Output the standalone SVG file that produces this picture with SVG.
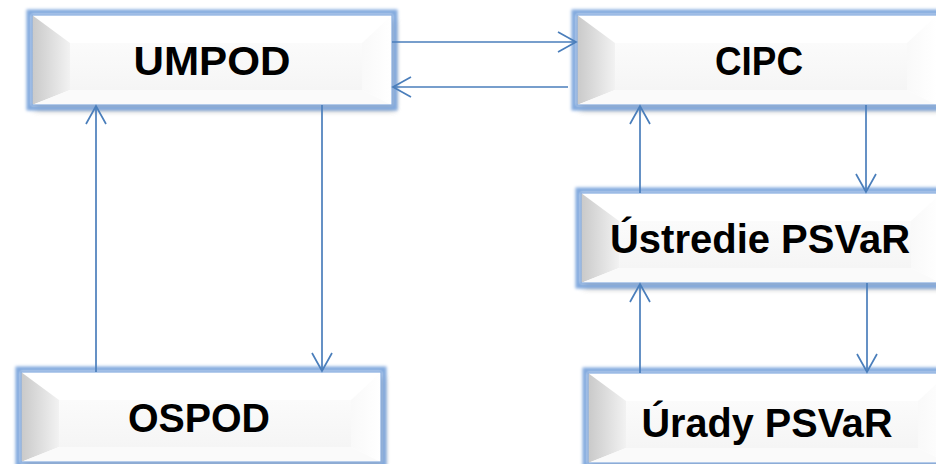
<svg xmlns="http://www.w3.org/2000/svg" xmlns:xlink="http://www.w3.org/1999/xlink" width="936" height="464" viewBox="0 0 936 464">
<defs>
<style>
.lbl{font-family:"Liberation Sans",Arial,sans-serif;font-weight:bold;font-size:41px;fill:#000;text-anchor:middle}
.con{stroke:#4a7ebb;stroke-width:1.7;fill:none;marker-end:url(#arr)}
</style>
<filter id="glow" x="-10%" y="-30%" width="120%" height="160%"><feGaussianBlur stdDeviation="1.6"/></filter>
<filter id="shadow" x="-10%" y="-30%" width="120%" height="160%"><feGaussianBlur stdDeviation="3"/></filter>
<linearGradient id="leftG" x1="0" y1="0" x2="1" y2="0">
<stop offset="0" stop-color="#c9c9c9"/><stop offset="1" stop-color="#f2f2f2"/>
</linearGradient>
<linearGradient id="rightG" x1="0" y1="0" x2="1" y2="0">
<stop offset="0" stop-color="#f9f9f9"/><stop offset="1" stop-color="#ffffff"/>
</linearGradient>
<linearGradient id="midG" x1="0" y1="0" x2="0" y2="1">
<stop offset="0" stop-color="#fbfbfb"/><stop offset="1" stop-color="#f5f5f5"/>
</linearGradient>
<marker id="arr" markerUnits="userSpaceOnUse" markerWidth="22" markerHeight="24" viewBox="-20 -12 22 24" refX="0" refY="0" orient="auto" overflow="visible">
<path d="M-18,-10 L0,0 L-18,10" fill="none" stroke="#4a7ebb" stroke-width="1.7"/>
</marker>
<g id="box">
<rect x="3" y="5" width="360" height="90" fill="#6f6f6f" opacity="0.6" filter="url(#shadow)"/>
<rect x="-3" y="-3" width="366" height="96" fill="none" stroke="#80a8dd" stroke-width="5" filter="url(#glow)"/>
<rect x="0" y="0" width="360" height="90" fill="#ffffff"/>
<polygon points="0,0 360,0 330,28 38,28" fill="#ffffff"/>
<polygon points="0,0 38,28 38,75 0,90" fill="url(#leftG)"/>
<polygon points="0,90 38,75 330,75 360,90" fill="#fafafa"/>
<polygon points="360,0 330,28 330,75 360,90" fill="url(#rightG)"/>
<rect x="38" y="28" width="292" height="47" fill="url(#midG)"/>
<rect x="0" y="0" width="360" height="90" fill="none" stroke="#86acdf" stroke-width="1.2"/>
</g>
</defs>
<rect width="936" height="464" fill="#ffffff"/>
<g id="node-umpod">
<use xlink:href="#box" href="#box" x="32" y="15"/>
<text class="lbl" x="212" y="75" textLength="157" lengthAdjust="spacingAndGlyphs">UMPOD</text>
</g>
<g id="node-cipc">
<use xlink:href="#box" href="#box" x="577" y="15"/>
<text class="lbl" x="759" y="75" textLength="88" lengthAdjust="spacingAndGlyphs">CIPC</text>
</g>
<g id="node-ustredie">
<use xlink:href="#box" href="#box" x="581" y="193"/>
<text class="lbl" x="760" y="253" textLength="300" lengthAdjust="spacingAndGlyphs">Ústredie PSVaR</text>
</g>
<g id="node-ospod">
<use xlink:href="#box" href="#box" x="21" y="372"/>
<text class="lbl" x="199" y="432" textLength="142" lengthAdjust="spacingAndGlyphs">OSPOD</text>
</g>
<g id="node-urady">
<use xlink:href="#box" href="#box" x="588" y="373"/>
<text class="lbl" x="767" y="437" textLength="251" lengthAdjust="spacingAndGlyphs">Úrady PSVaR</text>
</g>
<g id="connectors">
<path class="con" d="M392,42 H576"/>
<path class="con" d="M568,87 H393"/>
<path class="con" d="M96,372 V106"/>
<path class="con" d="M322,105 V371"/>
<path class="con" d="M640,193 V106"/>
<path class="con" d="M866,105 V192"/>
<path class="con" d="M640,373 V284"/>
<path class="con" d="M867,283 V372"/>
</g>
</svg>
